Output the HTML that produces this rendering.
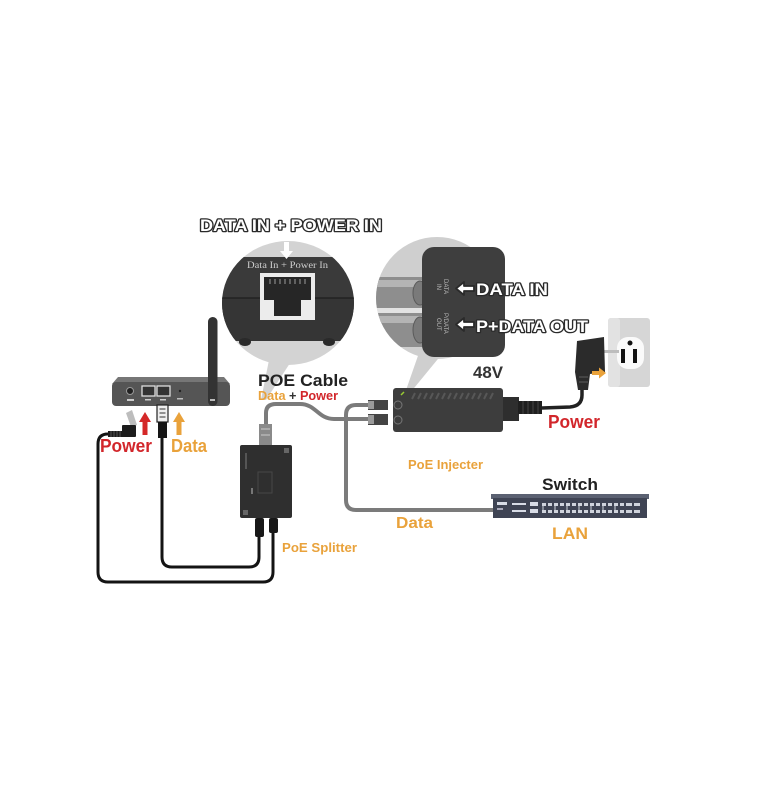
<!DOCTYPE html>
<html><head><meta charset="utf-8"><style>
html,body{margin:0;padding:0;background:#fff;}
svg{display:block;}
text{font-family:"Liberation Sans",Arial,sans-serif;font-weight:bold;}
.ol{fill:#fff;stroke:#2a2a2a;stroke-width:2.6;paint-order:stroke fill;stroke-linejoin:round;}
</style></head><body>
<svg width="764" height="800" viewBox="0 0 764 800" xmlns="http://www.w3.org/2000/svg">
<defs>
<clipPath id="cl"><ellipse cx="288" cy="303" rx="66" ry="62"/></clipPath>
<clipPath id="cr"><circle cx="437" cy="298" r="61"/></clipPath>
</defs>
<rect width="764" height="800" fill="#fff"/>

<!-- title -->
<text x="200" y="231" font-size="17" class="ol" textLength="182" lengthAdjust="spacingAndGlyphs">DATA IN + POWER IN</text>

<!-- LEFT CIRCLE -->
<polygon points="270,355 292,360 266,400 261,400" fill="#d3d3d3"/>
<ellipse cx="288" cy="303" rx="66" ry="62" fill="#d3d3d3"/>
<g clip-path="url(#cl)">
  <path d="M210 341 L210 269 Q210 257 222 257 L354 257 Q366 257 366 269 L366 341 Z" fill="#3a3a3a"/>
  <rect x="210" y="298" width="156" height="43" fill="#353535"/>
  <line x1="210" y1="298" x2="366" y2="298" stroke="#222" stroke-width="1.5"/>
  <ellipse cx="245" cy="342" rx="6" ry="4" fill="#2a2a2a"/>
  <ellipse cx="329" cy="342" rx="6" ry="4" fill="#2a2a2a"/>
</g>
<text x="247" y="268" font-size="9" fill="#cfcfcf" style="font-family:'Liberation Serif',serif;font-weight:normal" textLength="81" lengthAdjust="spacingAndGlyphs">Data In + Power In</text>
<rect x="284" y="242" width="5" height="10" fill="#fff"/>
<polygon points="280,251 293,251 286.5,259" fill="#fff"/>
<rect x="260" y="273" width="55" height="47" fill="#ececec"/>
<path d="M264 277 L311 277 L311 300 L301 300 L301 316 L274 316 L274 300 L264 300 Z" fill="#262626"/>
<g stroke="#888" stroke-width="1.2">
<line x1="270" y1="279" x2="270" y2="284"/><line x1="275" y1="279" x2="275" y2="284"/><line x1="280" y1="279" x2="280" y2="284"/><line x1="285" y1="279" x2="285" y2="284"/><line x1="290" y1="279" x2="290" y2="284"/><line x1="295" y1="279" x2="295" y2="284"/><line x1="300" y1="279" x2="300" y2="284"/><line x1="305" y1="279" x2="305" y2="284"/>
</g>

<!-- RIGHT CIRCLE -->
<polygon points="420,350 442,354 410,393 405,393" fill="#cfcfcf"/>
<circle cx="437" cy="298" r="61" fill="#cfcfcf"/>
<g clip-path="url(#cr)">
  <rect x="370" y="277" width="56" height="31" fill="#8e8e8e"/>
  <rect x="370" y="280" width="56" height="7" fill="#b4b4b4"/>
  <ellipse cx="420" cy="293" rx="7" ry="12" fill="#7a7a7a" stroke="#5a5a5a"/>
  <rect x="370" y="308" width="56" height="5" fill="#e2e2e2"/>
  <rect x="370" y="313" width="56" height="34" fill="#8e8e8e"/>
  <rect x="370" y="316" width="56" height="7" fill="#b4b4b4"/>
  <ellipse cx="420" cy="330" rx="7" ry="13" fill="#7a7a7a" stroke="#5a5a5a"/>
</g>
<rect x="422" y="247" width="83" height="110" rx="12" fill="#3e3e3e"/>
<text transform="translate(444,279) rotate(90)" font-size="6" fill="#bbb" style="font-weight:normal">DATA</text>
<text transform="translate(437,284) rotate(90)" font-size="6" fill="#bbb" style="font-weight:normal">IN</text>
<text transform="translate(444,313) rotate(90)" font-size="6" fill="#bbb" style="font-weight:normal">P/DATA</text>
<text transform="translate(437,318) rotate(90)" font-size="6" fill="#bbb" style="font-weight:normal">OUT</text>

<polygon points="456,288.5 464,282 464,286 474,286 474,291 464,291 464,295" fill="#fff" stroke="#2a2a2a" stroke-width="1.8" stroke-linejoin="round"/>
<text x="476" y="295" font-size="17" class="ol" textLength="72" lengthAdjust="spacingAndGlyphs">DATA IN</text>
<polygon points="456,324.5 464,318 464,322 474,322 474,327 464,327 464,331" fill="#fff" stroke="#2a2a2a" stroke-width="1.8" stroke-linejoin="round"/>
<text x="476" y="332" font-size="17" class="ol" textLength="112" lengthAdjust="spacingAndGlyphs">P+DATA OUT</text>

<!-- GRAY CABLES -->
<path d="M370 405 L356 405 Q346 405 346 415 L346 500 Q346 510 356 510 L494 510" fill="none" stroke="#7b7b7b" stroke-width="4"/>
<path d="M266 425 L266 413 Q266 404 276 404 L300 404 C316 404 318 419 334 419 L370 419" fill="none" stroke="#7b7b7b" stroke-width="4"/>

<!-- injector plugs -->
<rect x="368" y="400" width="20" height="10" fill="#444"/>
<rect x="368" y="401" width="6" height="8" fill="#9a9a9a"/>
<rect x="368" y="414" width="20" height="11" fill="#444"/>
<rect x="368" y="415" width="6" height="9" fill="#9a9a9a"/>

<!-- INJECTOR -->
<rect x="393" y="388" width="110" height="44" rx="3" fill="#3d3d3d"/>
<g stroke="#575757" stroke-width="2">
<path d="M412 399 l3 -6 M418 399 l3 -6 M424 399 l3 -6 M430 399 l3 -6 M436 399 l3 -6 M442 399 l3 -6 M448 399 l3 -6 M454 399 l3 -6 M460 399 l3 -6 M466 399 l3 -6 M472 399 l3 -6 M478 399 l3 -6 M484 399 l3 -6 M490 399 l3 -6"/>
</g>
<line x1="401" y1="395" x2="404" y2="392" stroke="#9c3" stroke-width="1.5"/>
<circle cx="398" cy="405" r="4" fill="none" stroke="#777" stroke-width="1"/>
<circle cx="398" cy="420" r="4" fill="none" stroke="#777" stroke-width="1"/>
<rect x="503" y="397" width="16" height="24" fill="#2e2e2e"/>
<rect x="518" y="401" width="24" height="13" fill="#1f1f1f"/>
<g stroke="#444" stroke-width="1"><path d="M523 401v13M528 401v13M533 401v13M538 401v13"/></g>
<path d="M542 408 L570 407 Q582 406 582 395 L582 386" fill="none" stroke="#222" stroke-width="3.5"/>

<!-- PLUG & OUTLET -->
<rect x="608" y="318" width="42" height="69" rx="3" fill="#d6d6d6"/>
<rect x="608" y="318" width="12" height="69" rx="3" fill="#e2e2e2"/>
<rect x="617" y="337" width="27" height="32" rx="11" fill="#fafafa"/>
<rect x="621" y="349" width="4" height="14" fill="#111"/>
<rect x="633" y="349" width="4" height="14" fill="#111"/>
<circle cx="630" cy="343" r="2.5" fill="#111"/>
<line x1="602" y1="351.5" x2="619" y2="351.5" stroke="#bdbdbd" stroke-width="3"/>
<path d="M577 341 L604 337 L605 372 L590 374 L588 390 L578 390 L575 372 Z" fill="#2b2b2b"/>
<rect x="579" y="376" width="9" height="2" fill="#444"/>
<rect x="579" y="381" width="9" height="2" fill="#444"/>
<rect x="592" y="371" width="8" height="4" fill="#e9a23b"/>
<polygon points="599,367.5 606,373 599,378.5" fill="#e9a23b"/>

<!-- SWITCH -->
<rect x="491" y="494" width="158" height="5" fill="#5b6172"/>
<rect x="493" y="498" width="154" height="20" fill="#3f4454"/>
<rect x="497" y="502" width="10" height="3" fill="#d8dce6"/>
<rect x="497" y="508" width="6" height="2" fill="#aab"/>
<g fill="#d8dce6">
<rect x="512" y="503" width="14" height="2"/><rect x="512" y="510" width="14" height="2"/>
<rect x="530" y="502" width="8" height="4"/><rect x="530" y="509" width="8" height="4"/>
</g>
<g fill="#cfd3dc">
<path d="M542 503h4v3h-4zM548 503h4v3h-4zM554 503h4v3h-4zM560 503h4v3h-4zM566 503h4v3h-4zM572 503h4v3h-4zM578 503h4v3h-4zM584 503h4v3h-4zM590 503h4v3h-4zM596 503h4v3h-4zM602 503h4v3h-4zM608 503h4v3h-4zM614 503h4v3h-4zM620 503h4v3h-4zM626 503h6v3h-6zM634 503h6v3h-6z"/>
<path d="M542 510h4v3h-4zM548 510h4v3h-4zM554 510h4v3h-4zM560 510h4v3h-4zM566 510h4v3h-4zM572 510h4v3h-4zM578 510h4v3h-4zM584 510h4v3h-4zM590 510h4v3h-4zM596 510h4v3h-4zM602 510h4v3h-4zM608 510h4v3h-4zM614 510h4v3h-4zM620 510h4v3h-4zM626 510h6v3h-6zM634 510h6v3h-6z"/>
<path d="M543 506v4M555 506v4M567 506v4M579 506v4M591 506v4M603 506v4M615 506v4" stroke="#cfd3dc" stroke-width="1"/>
</g>

<!-- BLACK CABLES -->
<path d="M162 437 L162 557 Q162 567 172 567 L249 567 Q259 567 259 557 L259 536" fill="none" stroke="#141414" stroke-width="3"/>
<path d="M122 434 L108 434 Q98 434 98 444 L98 572 Q98 582 108 582 L263 582 Q273 582 273 572 L273 532" fill="none" stroke="#141414" stroke-width="3"/>

<!-- SPLITTER -->
<rect x="259" y="424" width="13" height="21" fill="#8a8a8a"/>
<rect x="261" y="428" width="9" height="2" fill="#aaa"/>
<rect x="261" y="434" width="9" height="2" fill="#aaa"/>
<rect x="240" y="445" width="52" height="73" rx="2" fill="#2f2f2f"/>
<rect x="284" y="448" width="5" height="5" fill="#666"/>
<rect x="243" y="510" width="5" height="5" fill="#666"/>
<rect x="258" y="472" width="14" height="21" fill="none" stroke="#474747" stroke-width="1"/>
<rect x="245" y="453" width="2" height="16" fill="#555"/>
<rect x="251" y="488" width="2" height="6" fill="#777"/>
<rect x="255" y="518" width="9" height="19" rx="2" fill="#181818"/>
<rect x="269" y="518" width="9" height="15" rx="2" fill="#181818"/>

<!-- ROUTER -->
<polygon points="118,377 224,377 230,384 112,384" fill="#767676"/>
<rect x="112" y="382" width="118" height="24" rx="4" fill="#555"/>
<circle cx="130" cy="391" r="3.5" fill="#222" stroke="#999" stroke-width="1"/>
<rect x="127" y="399" width="7" height="2" fill="#ccc"/>
<rect x="142" y="386" width="13" height="10" fill="#333" stroke="#ddd" stroke-width="1.3"/>
<rect x="157" y="386" width="13" height="10" fill="#333" stroke="#ddd" stroke-width="1.3"/>
<rect x="145" y="399" width="6" height="1.5" fill="#ccc"/>
<rect x="160" y="399" width="6" height="1.5" fill="#ccc"/>
<circle cx="180" cy="391" r="1.2" fill="#222"/>
<rect x="177" y="398" width="6" height="1.5" fill="#bbb"/>
<rect x="208" y="317" width="9.5" height="89" rx="4.7" fill="#333"/>
<rect x="210" y="399" width="5" height="2" fill="#bbb"/>

<!-- DC plug -->
<polygon points="126,413 132,410 137,425 131,427" fill="#bdbdbd"/>
<rect x="122" y="425" width="14" height="12" rx="1" fill="#1c1c1c"/>
<rect x="108" y="431" width="15" height="6" fill="#1c1c1c"/>
<g stroke="#555" stroke-width="1"><path d="M111 431v6M114 431v6M117 431v6M120 431v6"/></g>
<!-- RJ45 plug -->
<rect x="157" y="405" width="11" height="17" fill="#eee" stroke="#222" stroke-width="1.2"/>
<path d="M159.5 409h6M159.5 413h6M159.5 417h6" stroke="#333" stroke-width="1"/>
<rect x="158" y="422" width="9" height="16" fill="#151515"/>

<!-- arrows -->
<polygon points="139,422 151,422 145,412" fill="#d42828"/>
<rect x="142.5" y="421" width="5" height="14" fill="#d42828"/>
<polygon points="173,422 185,422 179,412" fill="#e9a23b"/>
<rect x="176.5" y="421" width="5" height="14" fill="#e9a23b"/>

<!-- LABELS -->
<text x="100" y="452" font-size="18" fill="#d2262b" textLength="52" lengthAdjust="spacingAndGlyphs">Power</text>
<text x="171" y="452" font-size="18" fill="#e9a23b" textLength="36" lengthAdjust="spacingAndGlyphs">Data</text>
<text x="258" y="386" font-size="17" fill="#222" textLength="90" lengthAdjust="spacingAndGlyphs">POE Cable</text>
<text x="258" y="400" font-size="12.7" fill="#e9a23b">Data<tspan fill="#333"> + </tspan><tspan fill="#d2262b">Power</tspan></text>
<text x="473" y="378" font-size="17" fill="#333" textLength="30" lengthAdjust="spacingAndGlyphs">48V</text>
<text x="548" y="428" font-size="18" fill="#d2262b" textLength="52" lengthAdjust="spacingAndGlyphs">Power</text>
<text x="408" y="469" font-size="13" fill="#e9a23b" textLength="75" lengthAdjust="spacingAndGlyphs">PoE Injecter</text>
<text x="542" y="490" font-size="17" fill="#222" textLength="56" lengthAdjust="spacingAndGlyphs">Switch</text>
<text x="396" y="528" font-size="16" fill="#e9a23b" textLength="37" lengthAdjust="spacingAndGlyphs">Data</text>
<text x="552" y="539" font-size="17" fill="#e9a23b" textLength="36" lengthAdjust="spacingAndGlyphs">LAN</text>
<text x="282" y="552" font-size="13" fill="#e9a23b" textLength="75" lengthAdjust="spacingAndGlyphs">PoE Splitter</text>
</svg>
</body></html>
